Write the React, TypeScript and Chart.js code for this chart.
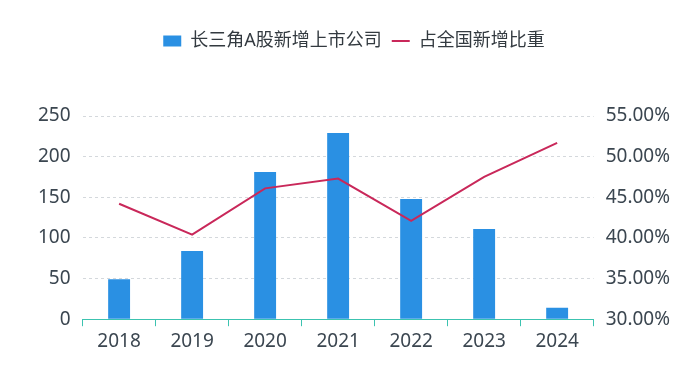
import React, { useEffect, useRef } from "react";
import { Chart, registerables } from "chart.js";

Chart.register(...registerables);

const categories = ["2018", "2019", "2020", "2021", "2022", "2023", "2024"];
const newListings = [49, 84, 181, 229, 148, 111, 14];
const shareOfNational = [44.2, 40.4, 46.1, 47.3, 42.1, 47.5, 51.7];
const barLabel = "长三角A股新增上市公司";
const lineLabel = "占全国新增比重";

const FONT = "'Noto Sans', 'Noto Sans CJK SC', sans-serif";
const TICK_COLOR = "#3b4650";
const AXIS_COLOR = "#3cc3b0";

const legendGap = {
  id: "legendGap",
  beforeInit(chart: any) {
    const legend = chart.legend;
    if (!legend) return;
    const orig = legend.fit;
    legend.fit = function () {
      orig.bind(legend)();
      this.height += 56;
    };
  },
};

export default function App() {
  const ref = useRef<HTMLCanvasElement | null>(null);

  useEffect(() => {
    document.body.style.margin = "0";
    const ctx = ref.current;
    if (!ctx) return;
    const chart = new Chart(ctx, {
      type: "bar",
      plugins: [legendGap],
      data: {
        labels: categories,
        datasets: [
          {
            type: "line",
            label: lineLabel,
            data: shareOfNational,
            yAxisID: "y1",
            borderColor: "#c9285a",
            backgroundColor: "#c9285a",
            borderWidth: 2,
            pointRadius: 0,
            pointHoverRadius: 0,
            tension: 0,
            pointStyle: "line",
            order: 0,
          },
          {
            type: "bar",
            label: barLabel,
            data: newListings,
            yAxisID: "y",
            backgroundColor: "#2a90e3",
            borderColor: "#2a90e3",
            borderWidth: 0,
            barPercentage: 0.6,
            categoryPercentage: 0.5,
            pointStyle: "rect",
            order: 1,
          },
        ],
      },
      options: {
        responsive: false,
        animation: false,
        layout: { padding: { left: 26, right: 18, top: 22, bottom: 34 } },
        plugins: {
          tooltip: { enabled: false },
          legend: {
            position: "top",
            reverse: true,
            labels: {
              usePointStyle: true,
              pointStyleWidth: 18,
              boxHeight: 11,
              padding: 10,
              font: { family: FONT, size: 18 },
              color: "#333a40",
            },
          },
        },
        scales: {
          x: {
            offset: true,
            grid: {
              offset: true,
              drawOnChartArea: false,
              drawTicks: true,
              tickLength: 7,
              color: AXIS_COLOR,
            },
            border: { display: true, color: AXIS_COLOR, width: 1 },
            ticks: {
              color: TICK_COLOR,
              font: { family: FONT, size: 19 },
              padding: 4,
            },
          },
          y: {
            position: "left",
            min: 0,
            max: 250,
            ticks: {
              stepSize: 50,
              color: TICK_COLOR,
              font: { family: FONT, size: 19 },
              padding: 12,
            },
            grid: { color: "#d4d8dc", drawTicks: false, lineWidth: 1 },
            border: { display: false, dash: [3, 3] },
          },
          y1: {
            position: "right",
            min: 30,
            max: 55,
            ticks: {
              stepSize: 5,
              color: TICK_COLOR,
              font: { family: FONT, size: 19 },
              padding: 12,
              callback: (v: any) => Number(v).toFixed(2) + "%",
            },
            grid: { display: false, drawTicks: false },
            border: { display: false },
          },
        },
      },
    });
    return () => chart.destroy();
  }, []);

  return (
    <div style={{ width: 700, height: 391 }}>
      <canvas ref={ref} width={700} height={391} style={{ display: "block" }} />
    </div>
  );
}
